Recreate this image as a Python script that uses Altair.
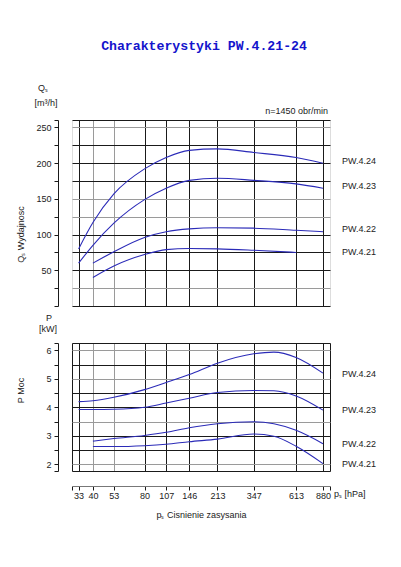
import altair as alt
import pandas as pd

# ---------------- data ----------------
p_ticks = [33, 40, 53, 80, 107, 146, 213, 347, 613, 880]
series = ["PW.4.24", "PW.4.23", "PW.4.22", "PW.4.21"]

# Capacity Qs [m3/h]
q_p_24 = [33, 40, 53, 80, 107, 146, 213, 347, 613, 880]
q_24 = [80, 117, 157, 192, 208, 218, 220, 215, 208, 200]
q_p_23 = [33, 40, 53, 80, 107, 146, 213, 347, 613, 880]
q_23 = [60, 85, 116, 149, 165, 176, 179, 176, 171, 165]
q_p_22 = [40, 53, 80, 107, 146, 213, 347, 613, 880]
q_22 = [60, 76, 96, 104, 108, 109.5, 109, 106, 104]
q_p_21 = [40, 53, 80, 107, 146, 213, 347, 613]
q_21 = [40, 56, 72, 79, 80.5, 80, 78, 75]
q_label_y = [203, 168, 108, 76]

# Power P [kW]
pw_p_24 = [33, 40, 53, 80, 107, 146, 213, 347, 455, 613, 880]
pw_24 = [4.20, 4.23, 4.35, 4.62, 4.87, 5.15, 5.55, 5.88, 5.94, 5.75, 5.20]
pw_p_23 = [33, 40, 53, 80, 107, 146, 213, 347, 455, 613, 880]
pw_23 = [3.92, 3.92, 3.93, 4.00, 4.15, 4.32, 4.52, 4.59, 4.58, 4.40, 3.90]
pw_p_22 = [40, 53, 80, 107, 146, 213, 347, 455, 613, 880]
pw_22 = [2.81, 2.90, 3.01, 3.12, 3.28, 3.42, 3.49, 3.42, 3.19, 2.72]
pw_p_21 = [40, 53, 80, 107, 146, 213, 347, 455, 613, 880]
pw_21 = [2.62, 2.62, 2.65, 2.70, 2.79, 2.88, 3.06, 2.98, 2.63, 2.02]
pw_label_y = [5.18, 3.89, 2.71, 2.0]

q_ticks = [0, 25, 50, 75, 100, 125, 150, 175, 200, 225, 250]
pw_ticks = [2, 2.5, 3, 3.5, 4, 4.5, 5, 5.5, 6]

x_domain = [30.2, 967]
q_domain = [0, 260.5]
pw_domain = [1.76, 6.26]


def long(ps, vs, name):
    return pd.DataFrame({"p": ps, "v": vs, "s": name})


q_df = pd.concat([long(q_p_24, q_24, series[0]), long(q_p_23, q_23, series[1]),
                  long(q_p_22, q_22, series[2]), long(q_p_21, q_21, series[3])])
pw_df = pd.concat([long(pw_p_24, pw_24, series[0]), long(pw_p_23, pw_23, series[1]),
                   long(pw_p_22, pw_22, series[2]), long(pw_p_21, pw_21, series[3])])
q_lab = pd.DataFrame({"p": [880] * 4, "v": q_label_y, "s": series})
pw_lab = pd.DataFrame({"p": [880] * 4, "v": pw_label_y, "s": series})

FONT = "Liberation Sans"
LINE = "#2b2bb8"
BLACK = "#1a1a1a"
GRAY = "#9a9a9a"
TXT = "#222222"


def grid_color(gray_vals):
    test = "indexof([" + ",".join(str(g) for g in gray_vals) + "], datum.value) >= 0"
    return {"condition": {"test": test, "value": GRAY}, "value": BLACK}


x_top_axis = alt.Axis(values=p_ticks, tickCount=30, grid=True, labels=False, ticks=False,
                      domain=False, title=None, gridColor=grid_color([40, 53]),
                      gridOpacity=1, gridWidth=1)
x_bot_axis = alt.Axis(values=[x_domain[0]] + p_ticks + [x_domain[1]], tickCount=30, grid=True,
                      gridColor=grid_color([40, 53]), gridOpacity=1, gridWidth=1,
                      labelExpr="(datum.value < 31 || datum.value > 900) ? '' : format(datum.value, 'd')",
                      offset=15, tickSize=4, tickColor=BLACK,
                      domainColor="#777777", labelFont=FONT, labelFontSize=9,
                      labelColor=TXT, labelPadding=1, labelFlush=False, labelOverlap=False,
                      title="pₛ  Cisnienie zasysania", titleFont=FONT, titleFontSize=9,
                      titleFontWeight="normal", titleColor=TXT, titlePadding=10)

q_axis = alt.Axis(values=q_ticks + [q_domain[1]], tickCount=30, grid=True,
                  gridColor=grid_color([25, 125, 150, 250]), gridOpacity=1,
                  labelExpr="(datum.value % 50 == 0 && datum.value > 0) ? format(datum.value, 'd') : ''",
                  offset=14, tickSize=4, tickColor=BLACK, domainColor=BLACK,
                  labelFont=FONT, labelFontSize=9, labelColor=TXT, labelPadding=3,
                  labelFlush=False, labelOverlap=False,
                  title="Qₛ  Wydajnosc", titleFont=FONT, titleFontSize=9,
                  titleFontWeight="normal", titleColor=TXT, titleAngle=270,
                  titleX=-38, titleY=114, titleAlign="center", titleBaseline="middle")
pw_axis = alt.Axis(values=[pw_domain[0]] + pw_ticks + [pw_domain[1]], tickCount=30, grid=True,
                   gridColor=grid_color([2, 3.5, 5, 6]), gridOpacity=1,
                   labelExpr="(datum.value % 1 == 0) ? format(datum.value, 'd') : ''",
                   offset=14, tickSize=4, tickColor=BLACK, domainColor=BLACK,
                   labelFont=FONT, labelFontSize=9, labelColor=TXT, labelPadding=3,
                   labelFlush=False, labelOverlap=False,
                   title="P  Moc", titleFont=FONT, titleFontSize=9,
                   titleFontWeight="normal", titleColor=TXT, titleAngle=270,
                   titleX=-38, titleY=47, titleAlign="center", titleBaseline="middle")

x_scale = alt.Scale(type="log", domain=x_domain)
q_scale = alt.Scale(domain=q_domain, nice=False, zero=False)
pw_scale = alt.Scale(domain=pw_domain, nice=False, zero=False)


def note(text, x, y, align="center", size=9, color=TXT, font=FONT, weight="normal"):
    return alt.Chart(pd.DataFrame({"t": [text]})).mark_text(
        align=align, baseline="middle", fontSize=size, font=font, color=color,
        fontWeight=weight
    ).encode(x=alt.value(x), y=alt.value(y), text="t:N")


top_lines = alt.Chart(q_df).mark_line(color=LINE, strokeWidth=1.1, interpolate="monotone").encode(
    x=alt.X("p:Q", scale=x_scale, axis=x_top_axis),
    y=alt.Y("v:Q", scale=q_scale, axis=q_axis),
    detail="s:N",
)
top_labels = alt.Chart(q_lab).mark_text(align="left", baseline="middle", dx=19,
                                        fontSize=9, font=FONT, color=TXT).encode(
    x=alt.X("p:Q", scale=x_scale, axis=x_top_axis),
    y=alt.Y("v:Q", scale=q_scale, axis=q_axis), text="s:N")

top = alt.layer(
    top_lines, top_labels,
    note("Charakterystyki  PW.4.21-24", 132, -74, size=13.2, color="#1414cc",
         font="Liberation Mono", weight="bold"),
    note("Qₛ", -29, -32),
    note("[m³/h]", -26, -17),
    note("n=1450  obr/min", 256, -9, align="right", size=9),
).properties(width=258, height=186)

bot_lines = alt.Chart(pw_df).mark_line(color=LINE, strokeWidth=1.1, interpolate="monotone").encode(
    x=alt.X("p:Q", scale=x_scale, axis=x_bot_axis),
    y=alt.Y("v:Q", scale=pw_scale, axis=pw_axis),
    detail="s:N",
)
bot_labels = alt.Chart(pw_lab).mark_text(align="left", baseline="middle", dx=19,
                                         fontSize=9, font=FONT, color=TXT).encode(
    x=alt.X("p:Q", scale=x_scale, axis=x_bot_axis),
    y=alt.Y("v:Q", scale=pw_scale, axis=pw_axis), text="s:N")

bottom = alt.layer(
    bot_lines, bot_labels,
    note("P", -23, -25),
    note("[kW]", -24, -14),
    note("pₛ [hPa]", 262, 151, align="left"),
).properties(width=258, height=128)

chart = alt.vconcat(top, bottom, spacing=1).properties(
    padding={"left": 7, "top": 30, "right": 5, "bottom": 5}
).configure_view(stroke=BLACK, strokeWidth=1).configure(background="white")

chart.save("out.html", embed_options={"renderer": "svg", "actions": False})
